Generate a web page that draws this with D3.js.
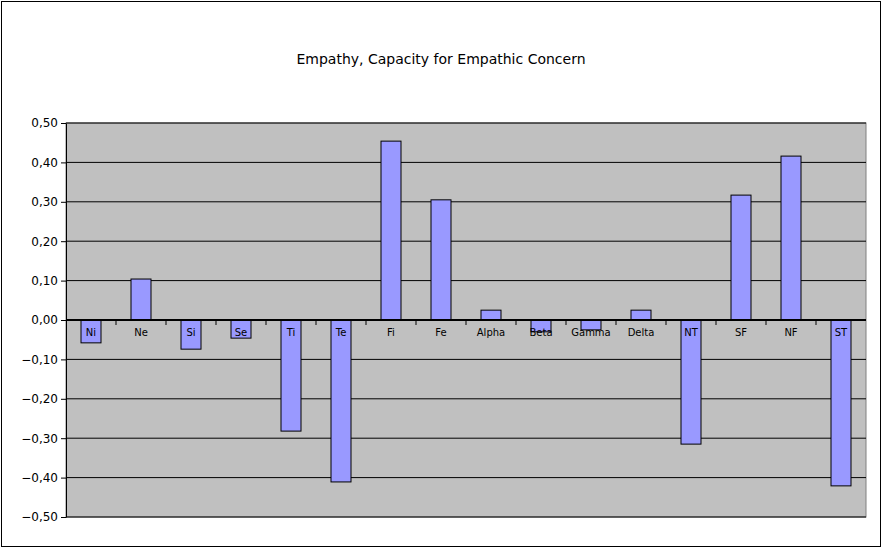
<!DOCTYPE html>
<html><head><meta charset="utf-8">
<script src="https://cdn.jsdelivr.net/npm/d3@7"></script>
<style>body{margin:0;background:#fff}svg{display:block}text{font-family:"DejaVu Sans",sans-serif}</style>
</head><body><svg id="c" width="882" height="548"></svg>
<script>
const categories = ["Ni","Ne","Si","Se","Ti","Te","Fi","Fe","Alpha","Beta","Gamma","Delta","NT","SF","NF","ST"];
const values = [-0.058,0.104,-0.074,-0.046,-0.282,-0.411,0.454,0.305,0.025,-0.03,-0.025,0.025,-0.315,0.317,0.416,-0.421];
const ticks = [-0.5,-0.4,-0.3,-0.2,-0.1,0,0.1,0.2,0.3,0.4,0.5];
const title = "Empathy, Capacity for Empathic Concern";

const svg = d3.select("#c");
const m = {l:66, r:866, t:123, b:517};
svg.append("rect").attr("x",1.5).attr("y",1.5).attr("width",879).attr("height",545)
  .attr("fill","#fff").attr("stroke","#000");
svg.append("text").attr("x",441).attr("y",64).attr("text-anchor","middle")
  .attr("font-size",14).text(title);

const x = d3.scaleBand().domain(categories).range([m.l,m.r]);
const y = d3.scaleLinear().domain([-0.5,0.5]).range([m.b,m.t]);

svg.append("rect").attr("x",m.l).attr("y",m.t).attr("width",m.r-m.l).attr("height",m.b-m.t)
  .attr("fill","#c0c0c0").attr("stroke","#808080");
svg.append("g").selectAll("line").data(ticks).join("line")
  .attr("x1",m.l).attr("x2",m.r).attr("y1",d=>y(d)).attr("y2",d=>y(d))
  .attr("stroke","#000").attr("stroke-width",1);

const fmt = d => d3.format(".2f")(d).replace(".",",");
const ya = svg.append("g").attr("transform",`translate(${m.l},0)`)
  .call(d3.axisLeft(y).tickValues(ticks).tickFormat(fmt).tickSize(5).tickSizeOuter(0));
ya.selectAll("text").attr("font-size",12).attr("fill","#000").style("font-family","DejaVu Sans");
ya.select(".domain").attr("stroke","#000");

svg.append("g").selectAll("rect").data(values).join("rect")
  .attr("x",(d,i)=>x(categories[i])+x.bandwidth()*0.3)
  .attr("width",x.bandwidth()*0.4)
  .attr("y",d=>y(Math.max(0,d)))
  .attr("height",d=>Math.abs(y(d)-y(0)))
  .attr("fill","#9999ff").attr("stroke","#000").attr("stroke-width",1);

// category axis at zero
svg.append("line").attr("x1",m.l).attr("x2",m.r).attr("y1",y(0)).attr("y2",y(0))
  .attr("stroke","#000").attr("stroke-width",2);
svg.append("g").selectAll("line").data(categories.slice(1)).join("line")
  .attr("x1",d=>x(d)).attr("x2",d=>x(d)).attr("y1",y(0)).attr("y2",y(0)+5)
  .attr("stroke","#000");
svg.append("g").selectAll("text").data(categories).join("text")
  .attr("x",d=>x(d)+x.bandwidth()/2).attr("y",y(0)+16)
  .attr("text-anchor","middle").attr("font-size",10).text(d=>d);
</script></body></html>
